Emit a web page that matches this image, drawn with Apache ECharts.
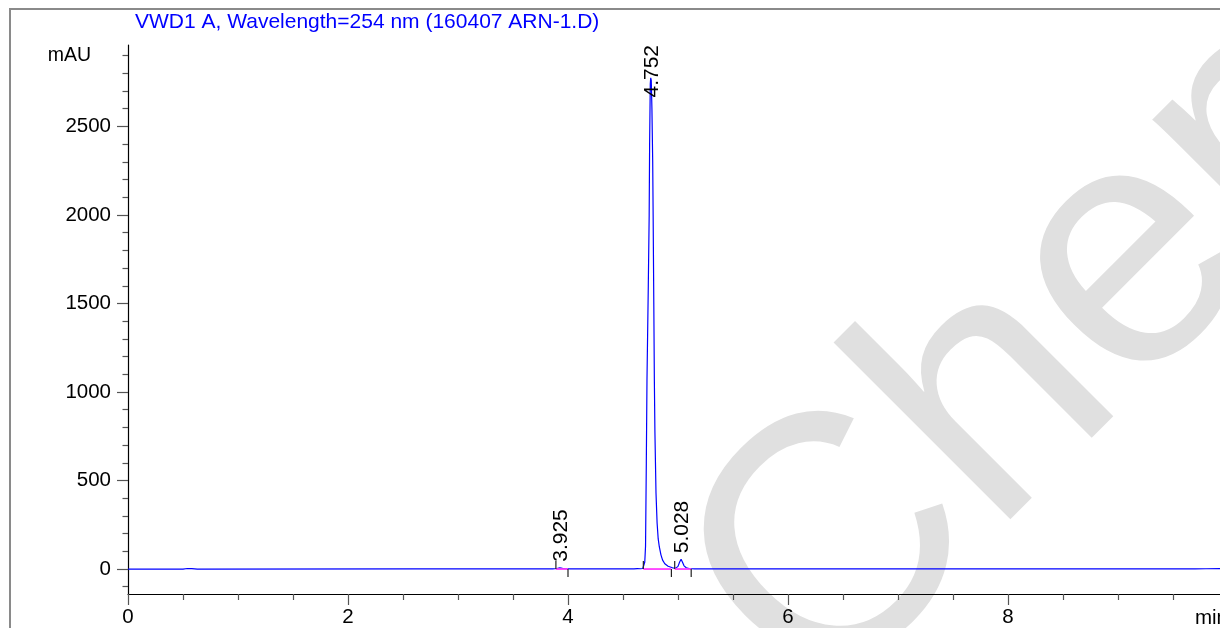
<!DOCTYPE html>
<html><head><meta charset="utf-8">
<script src="https://cdn.jsdelivr.net/npm/echarts@6/dist/echarts.min.js"></script>
<style>html,body{margin:0;padding:0;background:#fff;overflow:hidden}#c{width:1220px;height:628px}</style>
</head><body><div id="c"></div>
<script>
const titleText = 'VWD1 A, Wavelength=254 nm (160407 ARN-1.D)';
const yAxisUnit = 'mAU';
const xAxisUnit = 'min';
const watermarkText = 'ChemicalBook';

const timeMin = [0, 0.50, 0.54, 0.58, 0.63, 2.60, 3.86, 3.90, 3.925, 3.95, 3.98, 4.02, 4.60, 4.63, 4.66, 4.68, 4.690, 4.698, 4.705, 4.712, 4.718, 4.730, 4.738, 4.742, 4.748, 4.752, 4.757, 4.763, 4.770, 4.774, 4.780, 4.785, 4.790, 4.800, 4.810, 4.820, 4.830, 4.845, 4.860, 4.880, 4.910, 4.950, 4.980, 5.000, 5.015, 5.028, 5.040, 5.055, 5.075, 5.100, 5.150, 5.250, 9.70, 9.80, 9.93, 10.0];
const signalMAU = [0, 0, 3, 2, 0, 0.4, 0.4, 3, 7, 4, 1.5, 0.5, 0.5, 2, 1.5, 3, 12, 40, 130, 600, 1066, 1600, 2000, 2400, 2740, 2775, 2760, 2600, 2300, 2000, 1500, 1070, 780, 430, 260, 170, 126, 80, 50, 30, 16, 7, 5, 15, 40, 55, 40, 18, 7, 3, 1, 0.4, 0.4, 1.5, 2, 2];

const peakTimes = [3.925, 4.752, 5.028];
const peakHeights = [7, 2775, 55];
const peakLabels = ['3.925', '4.752', '5.028'];

const baselineStarts = [3.89, 4.685, 4.97];
const baselineEnds = [4.00, 4.94, 5.12];
const markerTimes = [3.89, 4.00, 4.685, 4.94, 4.97, 5.12];
const markerDirs = [1, -1, 1, -1, 1, -1];

const xMajorTicks = [0, 2, 4, 6, 8, 10];
const xLabelTicks = [0, 2, 4, 6, 8];
const xMinorTicks = [0.5, 1, 1.5, 2.5, 3, 3.5, 4.5, 5, 5.5, 6.5, 7, 7.5, 8.5, 9, 9.5];
const yMajorTicks = [0, 500, 1000, 1500, 2000, 2500];
const yMinorTicks = [-100, 100, 200, 300, 400, 600, 700, 800, 900, 1100, 1200, 1300, 1400, 1600, 1700, 1800, 1900, 2100, 2200, 2300, 2400, 2600, 2700, 2800, 2900];
const xMin = 0, xMax = 10, yMin = -141, yMax = 2960;

const FONT = 'Liberation Sans, Arial, sans-serif';
const chart = echarts.init(document.getElementById('c'), null, {renderer: 'canvas'});

const tickColor = '#555';
const plain = v => String(v);
const baseAxisX = {type: 'value', min: xMin, max: xMax, position: 'bottom', splitLine: {show: false}};
const baseAxisY = {type: 'value', min: yMin, max: yMax, position: 'left', splitLine: {show: false}};

chart.setOption({
  animation: false,
  backgroundColor: '#fff',
  grid: {left: 128, right: -8, top: 45, bottom: 34, containLabel: false, outerBoundsMode: 'none'},
  xAxis: [
    Object.assign({}, baseAxisX, {
      axisLine: {show: true, onZero: false, lineStyle: {color: '#000', width: 1.2}},
      axisTick: {show: true, inside: false, length: 11, customValues: xMajorTicks, lineStyle: {color: tickColor, width: 1.2}},
      axisLabel: {show: true, customValues: xLabelTicks, formatter: plain, margin: 13, fontSize: 20.5, fontFamily: FONT, color: '#000'}
    }),
    Object.assign({}, baseAxisX, {
      axisLine: {show: false, onZero: false},
      axisTick: {show: true, inside: false, length: 6, customValues: xMinorTicks, lineStyle: {color: tickColor, width: 1.2}},
      axisLabel: {show: false}
    })
  ],
  yAxis: [
    Object.assign({}, baseAxisY, {
      axisLine: {show: true, onZero: false, lineStyle: {color: '#000', width: 1.2}},
      axisTick: {show: true, inside: false, length: 11, customValues: yMajorTicks, lineStyle: {color: tickColor, width: 1.2}},
      axisLabel: {show: true, customValues: yMajorTicks, formatter: plain, margin: 17, fontSize: 20.5, fontFamily: FONT, color: '#000'}
    }),
    Object.assign({}, baseAxisY, {
      axisLine: {show: false, onZero: false},
      axisTick: {show: true, inside: false, length: 5.5, customValues: yMinorTicks, lineStyle: {color: tickColor, width: 1.2}},
      axisLabel: {show: false}
    })
  ],
  series: [
    {
      type: 'line', xAxisIndex: 0, yAxisIndex: 0, symbol: 'none', smooth: false, z: 3,
      lineStyle: {color: '#0000ff', width: 1.2},
      data: timeMin.map((t, i) => [t, signalMAU[i]])
    },
    {
      type: 'custom', xAxisIndex: 0, yAxisIndex: 0, z: 4,
      data: baselineStarts.map((s, i) => [s, baselineEnds[i]]),
      renderItem: function (params, api) {
        const a = api.coord([api.value(0), 0]);
        const b = api.coord([api.value(1), 0]);
        return {type: 'line', shape: {x1: a[0], y1: a[1], x2: b[0], y2: b[1]}, style: {stroke: '#ff3cff', lineWidth: 1.8}};
      }
    },
    {
      type: 'custom', xAxisIndex: 0, yAxisIndex: 0, z: 5,
      data: markerTimes.map((t, i) => [t, markerDirs[i]]),
      renderItem: function (params, api) {
        const p = api.coord([api.value(0), 0]);
        const d = api.value(1);
        return {type: 'line', shape: {x1: p[0], y1: p[1], x2: p[0], y2: p[1] - d * 8}, style: {stroke: '#222', lineWidth: 1.2}};
      }
    }
  ]
});

const mctx = document.createElement('canvas').getContext('2d');
function textLen(txt, size) { mctx.font = size + 'px ' + FONT; return mctx.measureText(txt).width; }

const toPx = v => chart.convertToPixel({xAxisIndex: 0, yAxisIndex: 0}, v);
const topPx = toPx([xMin, yMax]);
const endPx = toPx([xMax, yMin]);

const graphics = [];
graphics.push({
  type: 'text', x: 750, y: 645, rotation: Math.PI / 4, z: -10, silent: true,
  style: {text: watermarkText, font: '345px ' + FONT, fill: '#e0e0e0', align: 'left', verticalAlign: 'middle'}
});
graphics.push({
  type: 'rect', z: 10, silent: true,
  shape: {x: 10, y: 9, width: 1400, height: 800},
  style: {fill: 'none', stroke: '#8a8a8a', lineWidth: 2}
});
graphics.push({
  type: 'text', x: 135, y: 22, z: 10,
  style: {text: titleText, font: '21px ' + FONT, fill: '#0000ff', align: 'left', verticalAlign: 'middle'}
});
const unitY = toPx([xMin, 2900]);
graphics.push({
  type: 'text', x: unitY[0] - 37, y: unitY[1], z: 10,
  style: {text: yAxisUnit, font: '19.5px ' + FONT, fill: '#000', align: 'right', verticalAlign: 'middle'}
});
graphics.push({
  type: 'text', x: endPx[0], y: endPx[1] + 24, z: 10,
  style: {text: xAxisUnit, font: '20.5px ' + FONT, fill: '#000', align: 'right', verticalAlign: 'middle'}
});
peakTimes.forEach((t, i) => {
  const p = toPx([t, peakHeights[i]]);
  const len = textLen(peakLabels[i], 21);
  const y = Math.max(p[1] - 6, topPx[1] + len);
  graphics.push({
    type: 'text', x: p[0] + 1, y: y, rotation: Math.PI / 2, z: 10,
    style: {text: peakLabels[i], font: '21px ' + FONT, fill: '#000', align: 'left', verticalAlign: 'middle'}
  });
});

chart.setOption({graphic: {elements: graphics}});
</script>
</body></html>
